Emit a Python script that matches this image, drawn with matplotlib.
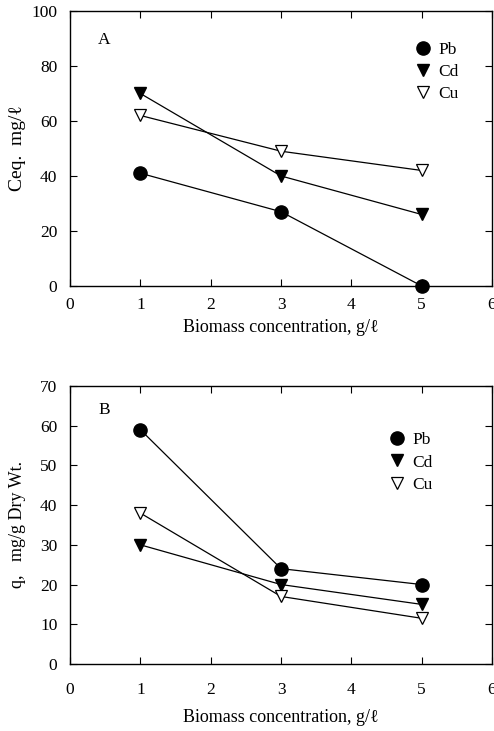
import matplotlib
matplotlib.use('Agg')
import matplotlib.pyplot as plt
from matplotlib.lines import Line2D

plt.rcParams['font.family'] = ['Liberation Serif', 'DejaVu Serif']
plt.rcParams['font.size'] = 12.5

# Biomass concentration, g/l
biomass = [1, 3, 5]

# Panel A: equilibrium concentration, mg/l
ceq_pb = [41, 27, 0]
ceq_cd = [70, 40, 26]
ceq_cu = [62, 49, 42]

# Panel B: uptake q, mg/g dry wt.
q_pb = [59, 24, 20]
q_cd = [30, 20, 15]
q_cu = [38, 17, 11.5]

metals = ['Pb', 'Cd', 'Cu']
styles = {
    'Pb': dict(marker='o', ms=9.5, mfc='black', mec='black'),
    'Cd': dict(marker='v', ms=9, mfc='black', mec='black'),
    'Cu': dict(marker='v', ms=9, mfc='white', mec='black', mew=0.9),
}

fig = plt.figure(figsize=(4.94, 7.31), dpi=100)
axA = fig.add_axes([0.1417, 0.6088, 0.8543, 0.3762])
axB = fig.add_axes([0.1417, 0.0917, 0.8543, 0.3803])


def draw_panel(ax, series, ymax, ystep, ylabel, tag, tag_y, leg_anchor,
               xpad, xlabelpad, ylabelpad, ylabelsize):
    for name, vals in zip(metals, series):
        ax.plot(biomass, vals, color='black', lw=0.9, zorder=2)
        ax.plot(biomass, vals, ls='none', zorder=3, clip_on=False, **styles[name])
    ax.set_xlim(0, 6)
    ax.set_ylim(0, ymax)
    ax.set_xticks(range(0, 7))
    ax.set_yticks(range(0, ymax + 1, ystep))
    ax.tick_params(direction='in', top=True, right=True, length=5, width=0.8,
                   labelsize=12.5, pad=9)
    ax.tick_params(axis='x', pad=xpad)
    for sp in ax.spines.values():
        sp.set_linewidth(1.0)
    ax.set_xlabel('Biomass concentration, g/\u2113', fontsize=13,
                  labelpad=xlabelpad)
    ax.set_ylabel(ylabel, fontsize=ylabelsize, labelpad=ylabelpad)
    ax.text(0.4, tag_y, tag, fontsize=12.5)
    handles = [Line2D([], [], ls='none', **styles[m]) for m in metals]
    ax.legend(handles, metals, loc='upper left', bbox_to_anchor=leg_anchor,
              frameon=False, fontsize=12.5, handletextpad=0.3,
              labelspacing=0.35, handlelength=1.2)


draw_panel(axA, [ceq_pb, ceq_cd, ceq_cu], 100, 20, 'Ceq.  mg/\u2113', 'A', 88,
           (0.775, 0.945), 8, 4, 4, 14)
draw_panel(axB, [q_pb, q_cd, q_cu], 70, 10, 'q,   mg/g Dry Wt.', 'B', 63,
           (0.713, 0.89), 13, 8, 10, 13)

fig.savefig('out.png', dpi=100)
